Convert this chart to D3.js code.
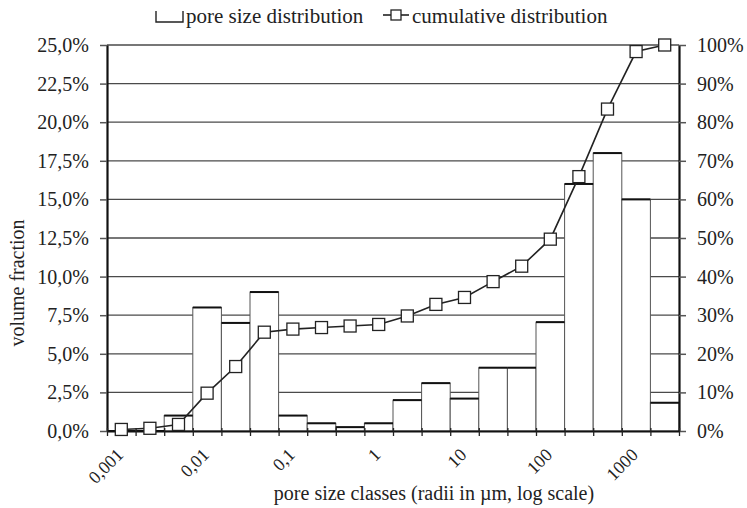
<!DOCTYPE html>
<html>
<head>
<meta charset="utf-8">
<script src="https://cdn.jsdelivr.net/npm/d3@7"></script>
<style>
body { margin: 0; background: #fff; }
</style>
</head>
<body>
<svg id="chart" width="747" height="508"></svg>
<script>
// pore size classes, 1/3 decade each (radius in um)
var classes = [0.001, 0.002, 0.005, 0.01, 0.02, 0.05, 0.1, 0.2, 0.5, 1, 2, 5, 10, 20, 50, 100, 200, 500, 1000, 2000];
var tickLabels = ["0,001", "", "", "0,01", "", "", "0,1", "", "", "1", "", "", "10", "", "", "100", "", "", "1000", ""];
var volumeFraction = [0, 0, 0.01, 0.08, 0.07, 0.09, 0.01, 0.005, 0.0025, 0.005, 0.02, 0.031, 0.021, 0.041, 0.041, 0.0705, 0.16, 0.18, 0.15, 0.0183];
var cumulative = [0.004, 0.007, 0.017, 0.098, 0.167, 0.256, 0.264, 0.268, 0.272, 0.276, 0.298, 0.328, 0.346, 0.387, 0.427, 0.497, 0.659, 0.834, 0.983, 1.0];
var leftTicks = [0, 0.025, 0.05, 0.075, 0.1, 0.125, 0.15, 0.175, 0.2, 0.225, 0.25];
var rightTicks = [0, 0.1, 0.2, 0.3, 0.4, 0.5, 0.6, 0.7, 0.8, 0.9, 1];

var FONT = "'Liberation Serif', 'DejaVu Serif', serif";
var m = { left: 107, right: 679, top: 45, bottom: 431 };
var svg = d3.select("#chart");

var loc = d3.formatLocale({ decimal: ",", thousands: ".", grouping: [3], currency: ["", ""], percent: "%" });
var fmtL = loc.format(".1%"), fmtR = loc.format(".0%");

var x = d3.scaleBand().domain(d3.range(classes.length)).range([m.left, m.right]).paddingInner(0).paddingOuter(0);
var xb = d3.scaleLinear().domain([0, classes.length]).range([m.left, m.right]);
var yL = d3.scaleLinear().domain([0, 0.25]).range([m.bottom, m.top]);
var yR = d3.scaleLinear().domain([0, 1]).range([m.bottom, m.top]);

// gridlines
svg.append("g").selectAll("line").data(leftTicks.slice(1)).join("line")
  .attr("x1", m.left).attr("x2", m.right)
  .attr("y1", function(d) { return yL(d); }).attr("y2", function(d) { return yL(d); })
  .attr("stroke", "#4a4a4a").attr("stroke-width", 1.3);

// bars
var bars = svg.append("g");
bars.selectAll("rect").data(volumeFraction).join("rect")
  .attr("x", function(d, i) { return x(i); })
  .attr("y", function(d) { return yL(d); })
  .attr("width", x.bandwidth())
  .attr("height", function(d) { return m.bottom - yL(d); })
  .attr("fill", "#fff").attr("stroke", "#555").attr("stroke-width", 1);
bars.selectAll("line").data(volumeFraction).join("line")
  .attr("x1", function(d, i) { return x(i); })
  .attr("x2", function(d, i) { return x(i) + x.bandwidth(); })
  .attr("y1", function(d) { return yL(d); }).attr("y2", function(d) { return yL(d); })
  .attr("stroke", "#111").attr("stroke-width", 2);

// axes
var gl = svg.append("g").attr("transform", "translate(" + m.left + ",0)")
  .call(d3.axisLeft(yL).tickValues(leftTicks).tickFormat(fmtL).tickSize(7).tickSizeOuter(0).tickPadding(11));
var gr = svg.append("g").attr("transform", "translate(" + m.right + ",0)")
  .call(d3.axisRight(yR).tickValues(rightTicks).tickFormat(fmtR).tickSize(7).tickSizeOuter(0).tickPadding(11));
var gb = svg.append("g").attr("transform", "translate(0," + m.bottom + ")")
  .call(d3.axisBottom(xb).tickValues(d3.range(classes.length + 1)).tickFormat("").tickSize(5).tickSizeOuter(0));
gb.selectAll(".tick line").attr("y1", -3);
[gl, gr].forEach(function(g) {
  g.select(".domain").attr("stroke", "#111").attr("stroke-width", 2.2);
  g.selectAll(".tick line").attr("stroke", "#555").attr("stroke-width", 1.5);
  g.selectAll(".tick text").attr("font-size", 20).attr("fill", "#222");
});
gb.select(".domain").attr("stroke", "#111").attr("stroke-width", 1.8);
gb.selectAll(".tick line").attr("stroke", "#222").attr("stroke-width", 1.3);

// rotated class labels
svg.append("g").selectAll("text").data(tickLabels).join("text")
  .attr("transform", function(d, i) { return "translate(" + (x(i) + x.bandwidth() / 2 + 3) + ",456) rotate(-45)"; })
  .attr("text-anchor", "end").attr("font-size", 18)
  .text(function(d) { return d; });

// cumulative line
var line = d3.line().x(function(d, i) { return x(i) + x.bandwidth() / 2; }).y(function(d) { return yR(d); });
svg.append("path").datum(cumulative).attr("d", line)
  .attr("fill", "none").attr("stroke", "#222").attr("stroke-width", 1.6);
svg.append("g").selectAll("rect").data(cumulative).join("rect")
  .attr("x", function(d, i) { return x(i) + x.bandwidth() / 2 - 6; })
  .attr("y", function(d) { return yR(d) - 6; })
  .attr("width", 12).attr("height", 12)
  .attr("fill", "#fff").attr("stroke", "#222").attr("stroke-width", 1.3);

// axis titles
svg.append("text").attr("transform", "translate(24,283) rotate(-90)")
  .attr("text-anchor", "middle").attr("font-size", 20).text("volume fraction");
svg.append("text").attr("x", 434).attr("y", 500)
  .attr("text-anchor", "middle").attr("font-size", 20).text("pore size classes (radii in µm, log scale)");

// legend
var lg = svg.append("g");
lg.append("path").attr("d", "M156,11V22H183V11").attr("fill", "none").attr("stroke", "#222").attr("stroke-width", 1.4);
lg.append("text").attr("x", 186).attr("y", 23).attr("font-size", 21).text("pore size distribution");
lg.append("line").attr("x1", 383).attr("x2", 409).attr("y1", 15).attr("y2", 15).attr("stroke", "#222").attr("stroke-width", 1.6);
lg.append("rect").attr("x", 391).attr("y", 10).attr("width", 10).attr("height", 10)
  .attr("fill", "#fff").attr("stroke", "#222").attr("stroke-width", 1.3);
lg.append("text").attr("x", 412).attr("y", 23).attr("font-size", 21).text("cumulative distribution");

svg.selectAll("text").style("font-family", FONT).style("fill", "#222");
</script>
</body>
</html>
